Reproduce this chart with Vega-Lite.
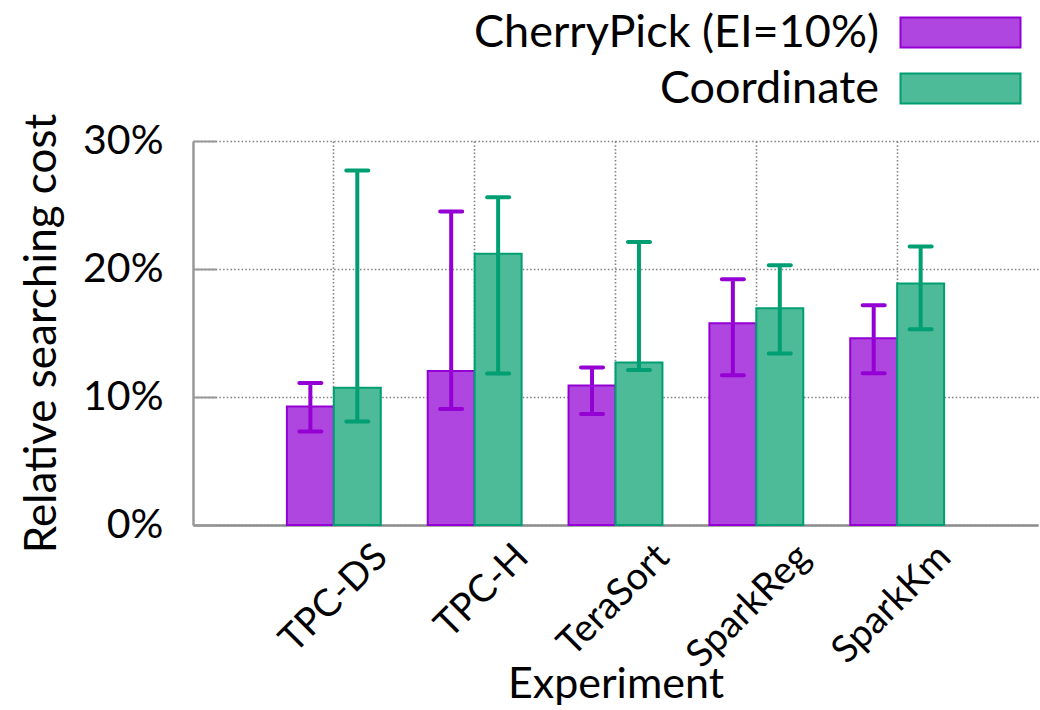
{
  "$schema": "https://vega.github.io/schema/vega-lite/v6.json",
  "autosize": {"type": "none"},
  "padding": {"left": 193, "top": 141, "right": 2, "bottom": 185},
  "width": 845,
  "height": 384,
  "background": "white",
  "config": {
    "view": {"stroke": null},
    "font": "Lato",
    "axis": {"labelColor": "black", "titleColor": "black", "titleFontWeight": "normal", "labelFont": "Lato", "titleFont": "Lato"}
  },
  "data": {
    "values": [
      {"experiment": "TPC-DS", "series": "CherryPick (EI=10%)", "value": 9.25, "lo": 7.3, "hi": 11.1},
      {"experiment": "TPC-DS", "series": "Coordinate", "value": 10.73, "lo": 8.08, "hi": 27.7},
      {"experiment": "TPC-H", "series": "CherryPick (EI=10%)", "value": 12.03, "lo": 9.06, "hi": 24.5},
      {"experiment": "TPC-H", "series": "Coordinate", "value": 21.2, "lo": 11.83, "hi": 25.6},
      {"experiment": "TeraSort", "series": "CherryPick (EI=10%)", "value": 10.9, "lo": 8.67, "hi": 12.3},
      {"experiment": "TeraSort", "series": "Coordinate", "value": 12.7, "lo": 12.1, "hi": 22.1},
      {"experiment": "SparkReg", "series": "CherryPick (EI=10%)", "value": 15.76, "lo": 11.7, "hi": 19.2},
      {"experiment": "SparkReg", "series": "Coordinate", "value": 16.93, "lo": 13.4, "hi": 20.3},
      {"experiment": "SparkKm", "series": "CherryPick (EI=10%)", "value": 14.59, "lo": 11.85, "hi": 17.16},
      {"experiment": "SparkKm", "series": "Coordinate", "value": 18.86, "lo": 15.29, "hi": 21.75}
    ]
  },
  "encoding": {
    "x": {
      "field": "experiment", "type": "nominal",
      "sort": ["TPC-DS", "TPC-H", "TeraSort", "SparkReg", "SparkKm"],
      "scale": {"paddingInner": 0, "paddingOuter": 0.5},
      "axis": {
        "title": "Experiment", "titleFontSize": 43, "titlePadding": -11,
        "labelAngle": -45, "labelAlign": "right", "labelBaseline": "middle", "labelFontSize": 38, "labelPadding": 26, "labelOffset": 48,
        "ticks": false, "grid": true, "bandPosition": 0.5,
        "gridColor": "#808080", "gridDash": [1.5, 2.2], "gridWidth": 1.6,
        "domainColor": "#8c8c8c", "domainWidth": 2.5
      }
    },
    "xOffset": {"field": "series", "type": "nominal", "scale": {"paddingInner": 0, "paddingOuter": 0.5}}
  },
  "layer": [
    {
      "mark": {"type": "bar", "strokeWidth": 2, "opacity": 1},
      "encoding": {
        "y": {
          "field": "value", "type": "quantitative",
          "scale": {"domain": [0, 30], "nice": false},
          "axis": {
            "title": "Relative searching cost", "titleFontSize": 44, "titlePadding": 18,
            "values": [0, 10, 20, 30], "labelExpr": "datum.value + '%'", "labelFontSize": 41, "labelPadding": 53,
            "tickSize": -23, "tickColor": "#999999", "tickWidth": 2,
            "grid": true, "gridColor": "#808080", "gridDash": [1.5, 2.2], "gridWidth": 1.6,
            "domainColor": "#999999", "domainWidth": 2.5
          }
        },
        "fill": {
          "field": "series", "type": "nominal",
          "scale": {"domain": ["CherryPick (EI=10%)", "Coordinate"], "range": ["#b046e0", "#4dba98"]},
          "legend": {
            "title": null, "orient": "none", "legendX": 745, "legendY": -131,
            "symbolType": "M-4,-1H4V1H-4Z", "symbolSize": 900, "symbolStrokeWidth": 2, "symbolOpacity": 1,
            "labelFontSize": 45, "labelFont": "Lato", "labelColor": "black", "labelAlign": "right", "labelOffset": -104,
            "rowPadding": 10, "labelLimit": 600
          }
        },
        "stroke": {
          "field": "series", "type": "nominal",
          "scale": {"domain": ["CherryPick (EI=10%)", "Coordinate"], "range": ["#9400d3", "#009e73"]},
          "legend": {
            "title": null, "orient": "none", "legendX": 745, "legendY": -131,
            "symbolType": "M-4,-1H4V1H-4Z", "symbolSize": 900, "symbolStrokeWidth": 2, "symbolOpacity": 1,
            "labelFontSize": 45, "labelFont": "Lato", "labelColor": "black", "labelAlign": "right", "labelOffset": -104,
            "rowPadding": 10, "labelLimit": 600
          }
        }
      }
    },
    {
      "mark": {"type": "rule", "strokeWidth": 4},
      "encoding": {
        "y": {"field": "lo", "type": "quantitative"},
        "y2": {"field": "hi"},
        "color": {
          "field": "series", "type": "nominal",
          "scale": {"domain": ["CherryPick (EI=10%)", "Coordinate"], "range": ["#9400d3", "#009e73"]},
          "legend": null
        }
      }
    },
    {
      "mark": {"type": "tick", "thickness": 4, "size": 26, "cornerRadius": 2, "opacity": 1},
      "encoding": {
        "y": {"field": "lo", "type": "quantitative"},
        "color": {"field": "series", "type": "nominal", "legend": null}
      }
    },
    {
      "mark": {"type": "tick", "thickness": 4, "size": 26, "cornerRadius": 2, "opacity": 1},
      "encoding": {
        "y": {"field": "hi", "type": "quantitative"},
        "color": {"field": "series", "type": "nominal", "legend": null}
      }
    }
  ]
}
